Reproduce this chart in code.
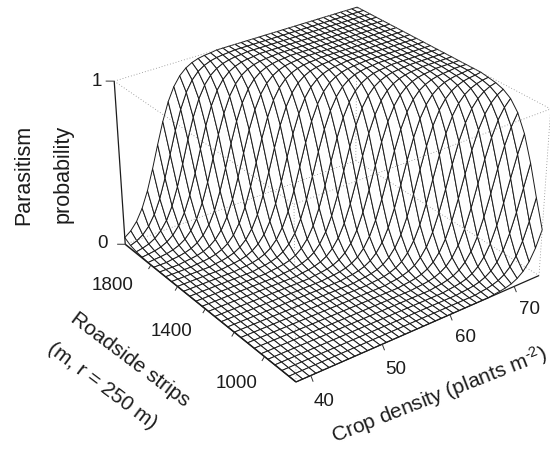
import numpy as np, seaborn as sns
import matplotlib
matplotlib.use("Agg")
import matplotlib.pyplot as plt

sns.set_theme(style="white")
plt.rcParams['font.family'] = ['Liberation Sans', 'DejaVu Sans']
plt.rcParams['mathtext.fontset'] = 'custom'
plt.rcParams['mathtext.rm'] = 'Liberation Sans'
plt.rcParams['mathtext.default'] = 'regular'

X_RANGE = [38, 74]
Y_RANGE = [800, 2000]
Z_RANGE = [0, 1]
X_TICKS = [40, 50, 60, 70]
Y_TICKS = [1000, 1200, 1400, 1600, 1800]
Z_TICKS = [0, 1]
X_LABELS = ['40', '50', '60', '70']
Y_LABELS = ['1000', '1400', '1800']
Z_LABELS = ['0', '1']
X_TITLE = r'Crop density (plants m$^{\text{-}2}$)'
Y_TITLE = ['Roadside strips', '(m, r = 250 m)']
Z_TITLE = ['Parasitism', 'probability']

# Parasitism probability read along the rising flank of the surface
RISE_LOW = [.004, .005, .006, .007, .009, .010, .012, .015, .018, .021, .025, .030, .036, .043, .051, .060,
            .072, .085, .100, .118, .138, .162, .188, .217, .250, .286, .325, .366, .410, .454]
RISE_HIGH = [.500, .546, .591, .634, .675, .714, .750, .783, .812, .839, .862, .882, .900, .915, .928, .940,
             .949, .957, .964, .970, .975, .979, .983, .985, .988, .990, .992, .993, .994, .995, .996]
profile = [0.0] * 95 + RISE_LOW + RISE_HIGH + [1.0] * 100
N_X, N_Y = 41, 28
x = np.linspace(*X_RANGE, N_X)
y = np.linspace(*Y_RANGE, N_Y)
Z = np.array([[profile[3 * i + 4 * j] for i in range(N_X)] for j in range(N_Y)])

W, H = 558, 451
INK = '#1c1c1c'
fig = plt.figure(figsize=(W / 100, H / 100), dpi=100)
ax = fig.add_axes([95.35 / W, 37.86 / H, 455.05 / W, 455.05 / H], projection='3d', computed_zorder=False)
ax.set_xlim(*X_RANGE, view_margin=0)
ax.set_ylim(*Y_RANGE, view_margin=0)
ax.set_zlim(*Z_RANGE, view_margin=0)
ax.view_init(elev=29.269, azim=-126.871)
ax.set_proj_type('persp', focal_length=0.7017)
ax.set_box_aspect((1.6064, 1.6062, 1))
ax.set_axis_off()

XX, YY = np.meshgrid(x, y)
ax.plot_surface(XX, YY, Z, rstride=1, cstride=1, color='white', edgecolor=INK,
                linewidth=0.7, shade=False, zorder=2)

x0, x1 = X_RANGE
y0, y1 = Y_RANGE
dotted = dict(color='#8a8a8a', lw=0.6, ls=(0, (1, 2.5)), zorder=3)
for xs, ys, zs in [([x0, x1], [y1, y1], [1, 1]), ([x0, x0], [y1, y0], [1, 1]),
                   ([x1, x1], [y0, y1], [1, 1]), ([x0, x1], [y0, y0], [1, 1]),
                   ([x1, x1], [y0, y0], [0, 1]), ([x0, x0], [y0, y0], [0, 1]),
                   ([x1, x1], [y1, y1], [0, 1]), ([x0, x1], [y1, y1], [0, 0]),
                   ([x1, x1], [y1, y0], [0, 0])]:
    ax.plot(xs, ys, zs, **dotted)

solid = dict(color=INK, lw=0.9, zorder=4, solid_capstyle='butt')
ax.plot([x0, x0], [y1, y1], [0, 1], **solid)
ax.plot([x0, x1], [y0, y0], [0, 0], **solid)
ax.plot([x0, x0], [y0, y1], [0, 0], lw=1.1, color=INK, zorder=4, solid_capstyle='butt')
tick = dict(color='#333333', lw=0.7, zorder=4, solid_capstyle='butt')
dx, dy = x1 - x0, y1 - y0
for v in X_TICKS:
    ax.plot([v, v], [y0, y0 - 0.012 * dy], [0, -0.026], **tick)
for v in Y_TICKS:
    ax.plot([x0, x0 - 0.01 * dx], [v, v], [0, -0.02], **tick)
for v in Z_TICKS:
    ax.plot([x0, x0 - 0.022 * dx], [y1, y1 + 0.017 * dy], [v, v], **tick)

def put(px, py, s, size, rot=0):
    fig.text(px / W, 1 - py / H, s, fontsize=size, rotation=rot, rotation_mode='anchor',
             ha='center', va='center', color=INK)

for s, (px, py) in zip(X_LABELS, [(324, 402), (396, 370), (465, 338), (530, 309)]):
    put(px, py, s, 13.5)
for s, (px, py) in zip(Y_LABELS, [(237, 383), (172, 332), (113, 286)]):
    put(px, py, s, 13.5)
for s, (px, py) in zip(Z_LABELS, [(103, 244), (97, 82)]):
    put(px, py, s, 13.5)
put(439, 395, X_TITLE, 15, 21.5)
put(130, 360, Y_TITLE[0], 15, -37)
put(102, 386, Y_TITLE[1], 15, -37)
put(24, 175, Z_TITLE[0], 15.5, 90)
put(63, 174, Z_TITLE[1], 15.5, 90)
fig.savefig("out.png", dpi=100)
